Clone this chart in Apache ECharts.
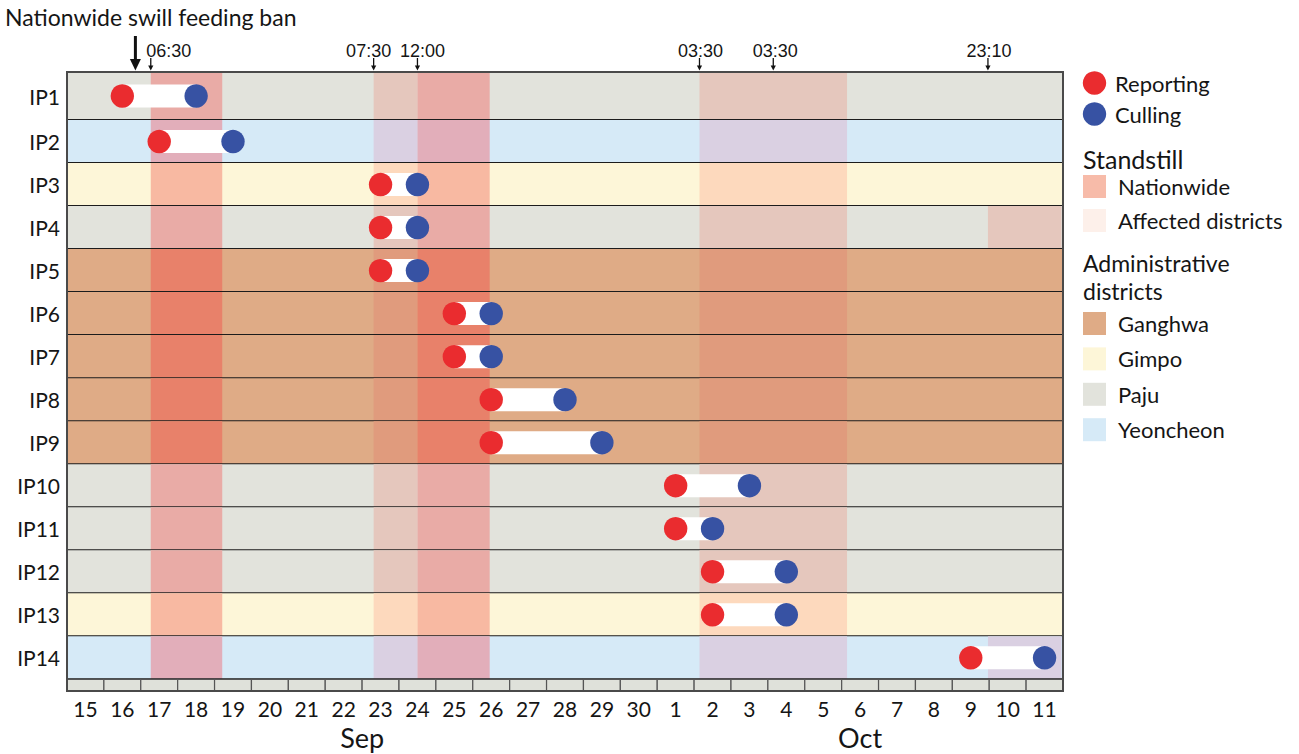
<!DOCTYPE html>
<html>
<head>
<meta charset="utf-8">
<script src="https://cdn.jsdelivr.net/npm/echarts@6/dist/echarts.min.js"></script>
<style>
  html, body { margin: 0; padding: 0; background: #ffffff; }
  #chart { width: 1299px; height: 754px; }
</style>
</head>
<body>
<div id="chart"></div>
<script>
// ---- Infected premises (IP) timeline data ----
const farms = ['IP1', 'IP2', 'IP3', 'IP4', 'IP5', 'IP6', 'IP7', 'IP8', 'IP9', 'IP10', 'IP11', 'IP12', 'IP13', 'IP14'];
const farmDistrict = ['Paju', 'Yeoncheon', 'Gimpo', 'Paju', 'Ganghwa', 'Ganghwa', 'Ganghwa', 'Ganghwa', 'Ganghwa',
                      'Paju', 'Paju', 'Paju', 'Gimpo', 'Yeoncheon'];
const reportDates = ['09-16', '09-17', '09-23', '09-23', '09-23', '09-25', '09-25', '09-26', '09-26',
                     '10-01', '10-01', '10-02', '10-02', '10-09'];
const cullDates   = ['09-18', '09-19', '09-24', '09-24', '09-24', '09-26', '09-26', '09-28', '09-29',
                     '10-03', '10-02', '10-04', '10-04', '10-11'];

// Day axis: 15 Sep – 11 Oct
const dayLabels = ['15', '16', '17', '18', '19', '20', '21', '22', '23', '24', '25', '26', '27', '28', '29', '30',
                   '1', '2', '3', '4', '5', '6', '7', '8', '9', '10', '11'];
const months = ['Sep', 'Oct'];
const monthDayCounts = [16, 11];

// Standstill orders (null farm list = every premises)
const standstillStart = ['09-17 06:30', '09-23 07:30', '09-24 12:00', '10-02 03:30', '10-09 23:10'];
const standstillEnd   = ['09-19 05:00', '09-24 12:00', '09-26 11:00', '10-06 03:30', '10-11 23:00'];
const standstillType  = ['Nationwide', 'Affected', 'Nationwide', 'Affected', 'Affected'];
const standstillFarms = [null, null, null, null, ['IP4', 'IP14']];

// Announcement times marked above the chart
const announceTimes  = ['09-17 06:30', '09-23 07:30', '09-24 12:00', '10-02 03:30', '10-04 03:30', '10-09 23:10'];
const announceLabels = ['06:30', '07:30', '12:00', '03:30', '03:30', '23:10'];
const swillBanTime  = '09-16 20:30';
const swillBanLabel = 'Nationwide swill feeding ban';

// Legend entries
const eventNames = ['Reporting', 'Culling'];
const standstillNames = ['Nationwide', 'Affected districts'];
const districtTitle = ['Administrative', 'districts'];
const districtNames = ['Ganghwa', 'Gimpo', 'Paju', 'Yeoncheon'];

// ---- Styling ----
const FONT = 'Lato, "Open Sans", sans-serif';
const TIME_FONT = '"Liberation Sans", Arial, sans-serif';
const TEXT = '#151515';
const RED = '#ea2c2f';
const BLUE = '#3752a3';
const districtPalette = {
  Ganghwa:   { base: '#dfab86', Nationwide: '#e8816a', Affected: '#e09b7d' },
  Gimpo:     { base: '#fdf6d8', Nationwide: '#f8b9a2', Affected: '#fdd9bd' },
  Paju:      { base: '#e2e3dc', Nationwide: '#e9aba6', Affected: '#e5c7bd' },
  Yeoncheon: { base: '#d6eaf7', Nationwide: '#e2aeba', Affected: '#dad0e2' }
};
const standstillSwatch = ['#f7bba9', '#fdf0ea'];
const timeLabelShift = [18, -5, 5, 1, 2, 1];

// ---- Helpers ----
const DAY_COUNT = dayLabels.length;
// days elapsed since 15 Sep 00:00
function toDay(str) {
  const [date, time] = str.split(' ');
  const [m, d] = date.split('-').map(Number);
  let day = m === 9 ? d - 15 : d + 15;
  if (time) {
    const [h, min] = time.split(':').map(Number);
    day += (h + min / 60) / 24;
  } else {
    day += 0.5;
  }
  return day;
}
const Y_MIN = -0.116;               // first row is drawn a little taller
const Y_MAX = farms.length + 0.272; // room for the day strip under the rows
const rowTop = i => (i === 0 ? Y_MIN : i);
const rowCenter = i => (rowTop(i) + i + 1) / 2;

const standstills = standstillStart.map((s, k) => ({
  start: toDay(s), end: toDay(standstillEnd[k]), type: standstillType[k], farms: standstillFarms[k]
}));

function rectBetween(api, x0, y0, x1, y1) {
  const p0 = api.coord([x0, y0]);
  const p1 = api.coord([x1, y1]);
  return { x: p0[0], y: p0[1], width: p1[0] - p0[0], height: p1[1] - p0[1] };
}
function textStyle(text, font, align, vAlign, fill) {
  return { text, font, fill: fill || TEXT, align, verticalAlign: vAlign, textAlign: align, textVerticalAlign: vAlign };
}

// ---- Series renderers ----
function renderRow(params, api) {
  const i = api.value(0);
  const top = rowTop(i), bottom = i + 1;
  const pal = districtPalette[farmDistrict[i]];
  const children = [{ type: 'rect', shape: rectBetween(api, 0, top, DAY_COUNT, bottom), style: { fill: pal.base } }];
  standstills.forEach(s => {
    if (!s.farms || s.farms.includes(farms[i])) {
      children.push({ type: 'rect', shape: rectBetween(api, s.start, top, s.end, bottom), style: { fill: pal[s.type] } });
    }
  });
  const a = api.coord([0, bottom]), b = api.coord([DAY_COUNT, bottom]);
  children.push({ type: 'line', shape: { x1: a[0], y1: a[1], x2: b[0], y2: b[1] }, style: { stroke: '#1c1c1c', lineWidth: 2 } });
  const c = api.coord([0, rowCenter(i)]);
  children.push({ type: 'text', x: c[0] - 7, y: c[1], style: textStyle(farms[i], '21px ' + FONT, 'right', 'middle') });
  return { type: 'group', children };
}

function renderStripCell(params, api) {
  const i = api.value(0);
  return { type: 'rect', shape: rectBetween(api, i, farms.length, i + 1, Y_MAX),
           style: { fill: '#dfe1da', stroke: '#555555', lineWidth: 1.2 } };
}

function renderFrame(params, api) {
  return { type: 'rect', shape: rectBetween(api, 0, Y_MIN, DAY_COUNT, Y_MAX),
           style: { fill: 'none', stroke: '#4a4a4a', lineWidth: 2 } };
}

function renderSpan(params, api) {
  const x0 = api.value(0), x1 = api.value(1), row = api.value(2);
  const p0 = api.coord([x0, rowCenter(row)]);
  const p1 = api.coord([x1, rowCenter(row)]);
  const h = 23;
  return { type: 'rect', shape: { x: p0[0], y: p0[1] - h / 2, width: p1[0] - p0[0], height: h }, style: { fill: '#ffffff' } };
}

function renderAnnounce(params, api) {
  const k = params.dataIndex;
  const x = api.coord([api.value(0), Y_MIN])[0];
  const top = api.coord([0, Y_MIN])[1];
  return { type: 'group', children: [
    { type: 'line', shape: { x1: x, y1: top - 14, x2: x, y2: top - 5 }, style: { stroke: '#111', lineWidth: 1.3 } },
    { type: 'polygon', shape: { points: [[x - 2.6, top - 6.5], [x + 2.6, top - 6.5], [x, top - 1.5]] }, style: { fill: '#111' } },
    { type: 'text', x: x + timeLabelShift[k], y: top - 21, style: textStyle(announceLabels[k], '18px ' + TIME_FONT, 'center', 'middle') }
  ] };
}

function renderSwillBan(params, api) {
  const x = api.coord([api.value(0), Y_MIN])[0];
  const top = api.coord([0, Y_MIN])[1];
  return { type: 'group', children: [
    { type: 'line', shape: { x1: x, y1: top - 36, x2: x, y2: top - 10 }, style: { stroke: '#111', lineWidth: 3 } },
    { type: 'polygon', shape: { points: [[x - 5.5, top - 13], [x + 5.5, top - 13], [x, top - 1.5]] }, style: { fill: '#111' } },
    { type: 'text', x: 5, y: 17, style: textStyle(swillBanLabel, '23px ' + FONT, 'left', 'middle') }
  ] };
}

function renderMonth(params, api) {
  const k = params.dataIndex;
  const start = monthDayCounts.slice(0, k).reduce((a, b) => a + b, 0);
  const p = api.coord([start + monthDayCounts[k] / 2, Y_MAX]);
  return { type: 'text', x: p[0], y: p[1] + 46, style: textStyle(months[k], '27px ' + FONT, 'center', 'middle') };
}

// ---- Legend (built from the legend arrays) ----
const LX = 1083;
const legend = [];
eventNames.forEach((name, k) => {
  const y = 83 + k * 31;
  legend.push({ type: 'circle', shape: { cx: LX + 11.5, cy: y, r: 11.7 }, style: { fill: k === 0 ? RED : BLUE } });
  legend.push({ type: 'text', x: LX + 32, y, style: textStyle(name, '22px ' + FONT, 'left', 'middle') });
});
legend.push({ type: 'text', x: LX, y: 159, style: textStyle('Standstill', '25px ' + FONT, 'left', 'middle') });
standstillNames.forEach((name, k) => {
  const y = 175 + k * 34;
  legend.push({ type: 'rect', shape: { x: LX, y, width: 23, height: 23 }, style: { fill: standstillSwatch[k] } });
  legend.push({ type: 'text', x: LX + 35, y: y + 11.5, style: textStyle(name, '22px ' + FONT, 'left', 'middle') });
});
districtTitle.forEach((line, k) => {
  legend.push({ type: 'text', x: LX, y: 263 + k * 28, style: textStyle(line, '23px ' + FONT, 'left', 'middle') });
});
districtNames.forEach((name, k) => {
  const y = 312 + k * 35.4;
  legend.push({ type: 'rect', shape: { x: LX, y, width: 23, height: 23 }, style: { fill: districtPalette[name].base } });
  legend.push({ type: 'text', x: LX + 35, y: y + 11.5, style: textStyle(name, '22px ' + FONT, 'left', 'middle') });
});

// ---- Chart ----
const chart = echarts.init(document.getElementById('chart'), null, { renderer: 'svg' });
chart.setOption({
  animation: false,
  backgroundColor: '#ffffff',
  grid: { left: 67, right: 236, top: 72, bottom: 63 },
  xAxis: [
    { type: 'value', min: 0, max: DAY_COUNT, show: false },
    { type: 'category', data: dayLabels, boundaryGap: true, position: 'bottom',
      axisLine: { show: false }, axisTick: { show: false }, splitLine: { show: false },
      axisLabel: { interval: 0, margin: 7, fontSize: 21, fontFamily: FONT, color: TEXT } }
  ],
  yAxis: { type: 'value', inverse: true, min: Y_MIN, max: Y_MAX, show: false },
  graphic: legend,
  series: [
    { type: 'custom', name: 'rows', renderItem: renderRow, data: farms.map((f, i) => [i]), z: 1, silent: true },
    { type: 'custom', name: 'strip', renderItem: renderStripCell, data: dayLabels.map((d, i) => [i]), z: 1, silent: true },
    { type: 'custom', name: 'span', renderItem: renderSpan, z: 2, silent: true,
      data: farms.map((f, i) => [toDay(reportDates[i]), toDay(cullDates[i]), i]) },
    { type: 'scatter', name: 'Reporting', symbolSize: 23.4, z: 3, silent: true,
      itemStyle: { color: RED, opacity: 1 },
      data: farms.map((f, i) => [toDay(reportDates[i]), rowCenter(i)]) },
    { type: 'scatter', name: 'Culling', symbolSize: 23.4, z: 3, silent: true,
      itemStyle: { color: BLUE, opacity: 1 },
      data: farms.map((f, i) => [toDay(cullDates[i]), rowCenter(i)]) },
    { type: 'custom', name: 'frame', renderItem: renderFrame, data: [[0]], z: 4, silent: true },
    { type: 'custom', name: 'announcements', renderItem: renderAnnounce, z: 4, silent: true,
      data: announceTimes.map(t => [toDay(t)]) },
    { type: 'custom', name: 'swill ban', renderItem: renderSwillBan, z: 4, silent: true,
      data: [[toDay(swillBanTime)]] },
    { type: 'custom', name: 'months', renderItem: renderMonth, z: 4, silent: true,
      data: months.map((m, k) => [k]) }
  ]
});
</script>
</body>
</html>
